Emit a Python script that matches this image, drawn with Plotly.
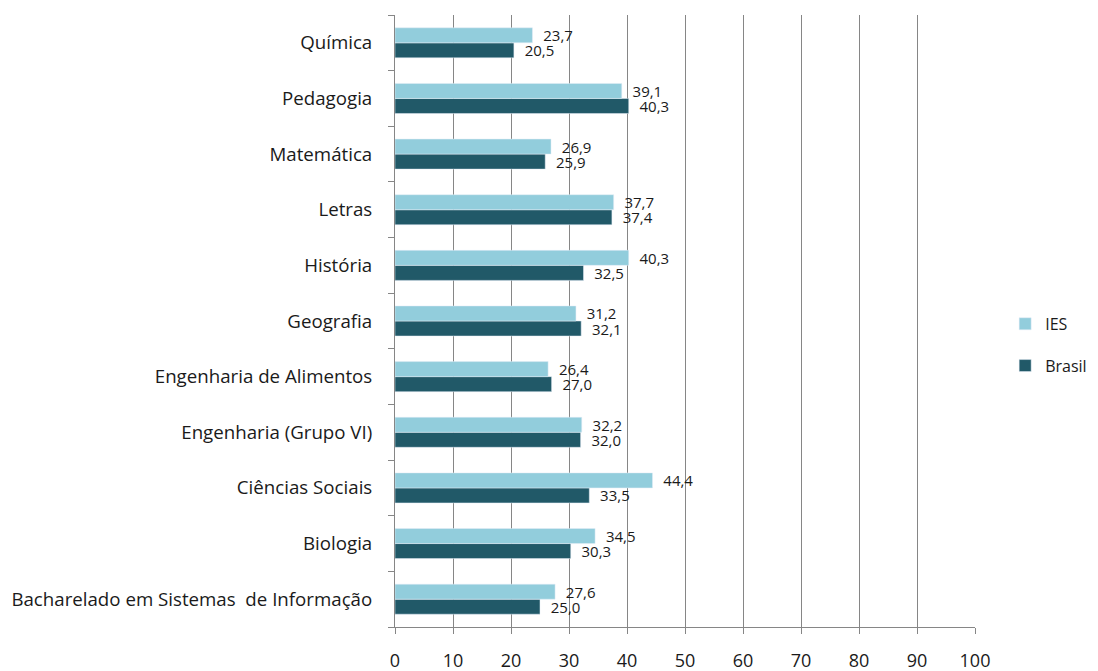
import plotly.graph_objs as go

categories = [
    "Bacharelado em Sistemas  de Informação",
    "Biologia",
    "Ciências Sociais",
    "Engenharia (Grupo VI)",
    "Engenharia de Alimentos",
    "Geografia",
    "História",
    "Letras",
    "Matemática",
    "Pedagogia",
    "Química",
]
ies_values = [27.6, 34.5, 44.4, 32.2, 26.4, 31.2, 40.3, 37.7, 26.9, 39.1, 23.7]
brasil_values = [25.0, 30.3, 33.5, 32.0, 27.0, 32.1, 32.5, 37.4, 25.9, 40.3, 20.5]
x_ticks = list(range(0, 101, 10))

font_family = "Open Sans, Noto Sans, sans-serif"

fig = go.Figure()

# first trace sits at the bottom of each group, so Brasil goes first
fig.add_trace(go.Bar(
    y=categories, x=brasil_values, name="Brasil", orientation="h",
    marker=dict(color="#215968"), legendgroup="b", legendrank=2,
    texttemplate="  %{x:.1f}", textposition="outside", constraintext="none",
    textfont=dict(size=15, color="#1a1a1a"), cliponaxis=False,
))
fig.add_trace(go.Bar(
    y=categories, x=ies_values, name="IES", orientation="h",
    marker=dict(color="#92CDDC"), legendgroup="a", legendrank=1,
    texttemplate="  %{x:.1f}", textposition="outside", constraintext="none",
    textfont=dict(size=15, color="#1a1a1a"), cliponaxis=False,
))

# the page body adds an 8px offset, so the figure is drawn 8px smaller
fig.update_layout(
    width=1090, height=663,
    barmode="group", bargap=0.46, bargroupgap=0,
    separators=",.",
    plot_bgcolor="white", paper_bgcolor="white",
    font=dict(family=font_family, size=18, color="#1a1a1a"),
    margin=dict(l=387, r=123, t=7, b=44, autoexpand=False),
    showlegend=True,
    legend=dict(
        x=1.052, y=0.461, xanchor="left", yanchor="middle",
        traceorder="grouped", tracegroupgap=18,
        font=dict(size=16),
    ),
    xaxis=dict(
        range=[0, 100], tickvals=x_ticks, showgrid=True,
        gridcolor="#868686", gridwidth=1, zeroline=False,
        showline=True, linecolor="#868686", linewidth=1,
        ticks="outside", ticklen=6, tickcolor="#868686",
        ticklabelstandoff=11, tickfont=dict(size=18),
    ),
    yaxis=dict(
        type="category", categoryorder="array", categoryarray=categories,
        showline=True, linecolor="#868686", linewidth=1,
        ticks="outside", ticklen=6, tickcolor="#868686",
        tickson="boundaries", showgrid=False,
        ticklabelstandoff=18, tickfont=dict(size=18.7),
    ),
)

fig.write_html("out.html")
